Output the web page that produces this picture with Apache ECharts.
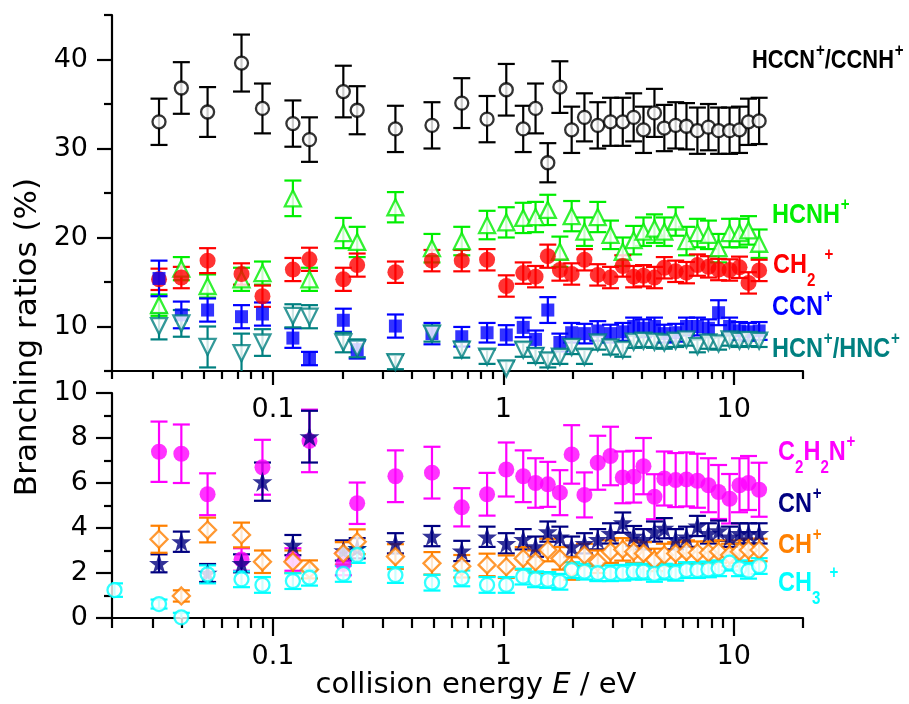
<!DOCTYPE html>
<html><head><meta charset="utf-8">
<script src="https://cdn.jsdelivr.net/npm/echarts@6.0.0/dist/echarts.min.js"></script>
<style>html,body{margin:0;padding:0;background:#fff}#c{width:909px;height:704px}</style>
</head><body><div id="c"></div>
<script>
// ---------- data ----------
const energy = [0.032,0.040,0.052,0.073,0.090,0.122,0.144,0.202,0.232,0.34,
  0.49,0.66,0.85,1.03,1.22,1.38,1.56,1.76,1.98,2.25,
  2.57,2.92,3.3,3.68,4.06,4.53,5.0,5.6,6.24,6.96,
  7.77,8.6,9.6,10.6,11.6,12.9];
const energyCH3 = [0.0205,0.032,0.040,0.052,0.073,0.090,0.122,0.144,0.202,0.232,0.34,
  0.49,0.66,0.85,1.03,1.22,1.38,1.56,1.76,1.98,2.25,
  2.57,2.92,3.3,3.68,4.06,4.53,5.0,5.6,6.24,6.96,
  7.77,8.6,9.6,10.6,11.6,12.9];

const hccn = [33.0,36.8,34.1,39.6,34.5,32.8,31.0,36.4,34.3,32.2,32.6,35.1,33.3,36.6,32.2,34.5,28.4,36.9,32.1,33.5,32.6,33.0,33.0,33.5,32.1,34.0,32.3,32.6,32.5,32.0,32.4,32.0,32.0,32.1,33.0,33.1];
const hccnErr = [2.6,2.9,2.8,3.2,2.8,2.6,2.5,2.9,2.7,2.6,2.6,2.8,2.6,2.9,2.6,2.8,2.2,2.9,2.6,2.7,2.6,2.7,2.7,2.7,2.6,2.7,2.6,2.6,2.6,2.6,2.6,2.6,2.6,2.6,2.6,2.6];
const hcnh = [12.4,16.5,14.55,15.3,16.0,24.4,15.3,20.5,19.5,23.4,18.8,19.6,21.4,21.7,22.2,22.3,23.1,18.4,22.4,20.65,22.3,20.3,18.4,19.7,20.65,21.0,20.65,21.8,19.6,20.5,20.3,18.8,20.5,20.5,20.8,19.3];
const hcnhErr = [1.2,1.3,1.3,1.3,1.3,2.0,1.3,1.7,1.7,1.7,1.6,1.6,1.6,1.7,1.7,1.7,1.7,1.7,1.7,1.6,1.7,1.6,1.6,1.6,1.6,1.6,1.6,1.6,1.6,1.6,1.6,1.6,1.6,1.6,1.6,1.6];
const ch2 = [15.3,15.5,17.4,15.9,13.4,16.4,17.55,15.3,16.9,16.1,17.4,17.4,17.5,14.55,16.0,15.6,17.9,16.35,15.9,17.5,15.8,15.5,16.8,15.6,15.7,15.5,16.6,16.2,16.05,16.9,16.7,16.4,16.35,16.65,14.9,16.3];
const ch2Err = [1.2,1.2,1.4,1.2,1.2,1.3,1.3,1.3,1.3,1.2,1.2,1.2,1.2,1.2,1.2,1.2,1.3,1.2,1.2,1.2,1.2,1.2,1.2,1.2,1.2,1.2,1.2,1.2,1.2,1.2,1.2,1.2,1.2,1.2,1.2,1.2];
const ccn = [15.4,11.3,11.85,11.1,11.4,8.7,6.4,10.7,7.4,10.05,9.2,8.85,9.3,9.05,9.9,8.55,11.85,8.2,9.3,9.2,9.5,9.2,9.4,10.0,9.8,10.0,9.2,9.3,10.0,10.0,9.8,11.55,10.0,9.5,9.4,9.5];
const ccnErr = [2.0,1.5,1.3,1.3,1.3,1.1,0.75,1.3,1.0,1.3,1.2,1.1,1.1,1.1,1.1,1.0,1.45,1.0,1.1,1.1,1.1,1.0,1.0,1.0,1.0,1.0,1.0,1.0,1.0,1.0,1.0,1.4,1.0,1.0,1.0,1.0];
const hcn = [10.05,10.35,7.7,7.0,8.2,11.2,11.1,8.2,7.55,6.0,9.2,7.4,6.6,5.3,7.4,6.7,6.2,6.6,7.7,6.6,8.2,7.65,7.4,8.3,8.4,8.3,8.2,8.4,8.55,7.8,8.2,8.1,8.55,8.4,8.5,8.4];
const hcnErr = [1.5,1.5,2.3,2.2,1.5,1.3,1.3,1.1,1.0,0.8,0.9,0.9,0.8,0.8,0.8,0.8,0.8,0.8,0.8,0.8,0.8,0.8,0.8,0.7,0.7,0.7,0.7,0.7,0.7,0.7,0.7,0.7,0.7,0.7,0.7,0.7];

const c2h2n = [7.39,7.3,5.5,2.6,6.7,2.6,7.87,2.4,5.1,6.3,6.46,4.92,5.5,6.6,6.3,6.0,5.94,5.57,7.27,5.47,6.9,7.2,6.25,6.28,6.75,5.39,6.2,6.13,6.16,6.1,5.9,5.6,5.3,5.9,6.0,5.7];
const c2h2nErr = [1.34,1.3,0.93,0.5,1.22,0.5,1.39,0.5,0.92,1.15,1.15,0.85,0.95,1.2,1.15,1.1,1.0,1.0,1.3,1.0,1.2,1.3,1.15,1.15,1.25,1.0,1.2,1.2,1.2,1.2,1.2,1.2,1.1,1.2,1.2,1.2];
const cn = [2.43,3.39,2.0,2.43,6.06,3.24,8.06,3.0,3.1,3.32,3.64,2.98,3.61,3.32,3.5,3.17,3.84,3.61,3.17,3.32,3.5,3.76,4.24,3.64,3.5,3.84,3.99,3.5,3.61,4.09,3.76,3.88,3.61,3.76,3.76,3.76];
const cnErr = [0.4,0.45,0.4,0.4,0.85,0.45,1.15,0.45,0.45,0.45,0.45,0.45,0.45,0.45,0.45,0.45,0.45,0.45,0.45,0.45,0.45,0.45,0.45,0.45,0.45,0.45,0.45,0.45,0.45,0.45,0.45,0.45,0.45,0.45,0.45,0.45];
const ch = [3.5,0.98,3.91,3.69,2.5,2.5,2.16,2.87,3.39,2.73,2.43,2.3,2.36,2.28,2.65,2.5,3.02,2.65,2.2,2.8,2.5,2.95,3.05,2.95,2.87,2.58,2.8,2.87,2.95,2.9,2.9,2.95,2.8,2.95,3.02,3.02];
const chErr = [0.6,0.25,0.55,0.55,0.5,0.5,0.4,0.5,0.55,0.55,0.5,0.5,0.5,0.5,0.5,0.5,0.5,0.5,0.5,0.5,0.5,0.5,0.5,0.5,0.5,0.5,0.5,0.5,0.5,0.5,0.5,0.5,0.5,0.5,0.5,0.5];
const ch3 = [1.24,0.62,0.03,1.94,1.72,1.47,1.64,1.79,1.96,2.8,1.91,1.57,1.76,1.47,1.47,1.84,1.72,1.69,1.61,2.13,2.06,1.99,1.99,2.01,2.06,2.06,1.96,2.06,2.01,2.13,2.13,2.16,2.21,2.46,2.21,2.1,2.31];
const ch3Err = [0.3,0.2,0.2,0.4,0.35,0.35,0.35,0.35,0.35,0.35,0.35,0.35,0.35,0.35,0.35,0.35,0.35,0.35,0.35,0.35,0.35,0.35,0.35,0.35,0.35,0.35,0.35,0.35,0.35,0.35,0.35,0.35,0.35,0.35,0.35,0.35,0.35];

// tick positions
const xMajorTicks = [0.1, 1, 10];
const xMinorTicks = [0.02,0.03,0.04,0.05,0.06,0.07,0.08,0.09,0.2,0.3,0.4,0.5,0.6,0.7,0.8,0.9,2,3,4,5,6,7,8,9,20];
const yTopMajor = [10, 20, 30, 40];
const yTopMinor = [5, 15, 25, 35, 45];

// ---------- style ----------
const F = "'DejaVu Sans', sans-serif";
const FL = "'Liberation Sans', Arial, sans-serif";
const BLK = '#000';
const STAR = 'path://M50,0 L61.8,35.1 L98.8,35.1 L68.9,56.8 L80.3,91.9 L50,70.2 L19.7,91.9 L31.1,56.8 L1.2,35.1 L38.2,35.1 Z';

function errSeries(xs, ys, es, color, gi) {
  return {
    type: 'custom', xAxisIndex: gi === 0 ? 0 : 2, yAxisIndex: gi === 0 ? 0 : 2,
    clip: true, silent: true,
    data: xs.map((x, i) => [x, ys[i] - es[i], ys[i] + es[i]]),
    encode: { x: 0, y: [1, 2] },
    renderItem: function (params, api) {
      const x = api.value(0);
      const p1 = api.coord([x, api.value(2)]);
      const p2 = api.coord([x, api.value(1)]);
      const hw = 8.5;
      const st = { stroke: color, lineWidth: 2.2, fill: null };
      return { type: 'group', children: [
        { type: 'line', shape: { x1: p1[0], y1: p1[1], x2: p2[0], y2: p2[1] }, style: st },
        { type: 'line', shape: { x1: p1[0] - hw, y1: p1[1], x2: p1[0] + hw, y2: p1[1] }, style: st },
        { type: 'line', shape: { x1: p2[0] - hw, y1: p2[1], x2: p2[0] + hw, y2: p2[1] }, style: st }
      ]};
    }
  };
}
function markSeries(xs, ys, color, gi, symbol, size, open, rotate) {
  return {
    type: 'scatter', xAxisIndex: gi === 0 ? 0 : 2, yAxisIndex: gi === 0 ? 0 : 2,
    clip: true, silent: true,
    symbol: symbol, symbolSize: size, symbolRotate: rotate || 0,
    data: xs.map((x, i) => [x, ys[i]]),
    itemStyle: open ? { color: '#fff', borderColor: color, borderWidth: 2.3 } : { color: color, borderWidth: 0 }
  };
}

const series = [];
function add(xs, ys, es, color, gi, symbol, size, open, rot) {
  series.push(errSeries(xs, ys, es, color, gi));
  series.push(markSeries(xs, ys, color, gi, symbol, size, open, rot));
}
add(energy, hccn, hccnErr, '#000000', 0, 'circle', 13, true);
add(energy, hcnh, hcnhErr, '#00ee00', 0, 'triangle', 16, true);
add(energy, ch2, ch2Err, '#ff0000', 0, 'circle', 16, false);
add(energy, ccn, ccnErr, '#0000ff', 0, 'rect', 13, false);
add(energy, hcn, hcnErr, '#008080', 0, 'triangle', 16, true, 180);
add(energy, c2h2n, c2h2nErr, '#ff00ff', 1, 'circle', 16, false);
add(energy, cn, cnErr, '#000080', 1, STAR, 20, false);
add(energy, ch, chErr, '#ff8000', 1, 'diamond', 17, true);
add(energyCH3, ch3, ch3Err, '#00ffff', 1, 'circle', 14, true);

const lineSt = { color: BLK, width: 2.2 };
function xMain(gi, tickLen) {
  return { gridIndex: gi, type: 'log', logBase: 10, min: 0.02, max: 20, position: 'bottom',
    axisLine: { show: true, onZero: false, lineStyle: lineSt },
    axisTick: { show: true, customValues: xMajorTicks, length: tickLen, lineStyle: lineSt },
    axisLabel: { show: true, customValues: xMajorTicks, margin: 25, fontSize: 27, fontFamily: F, color: BLK,
      formatter: v => String(+Number(v).toPrecision(3)) },
    splitLine: { show: false }, minorTick: { show: false } };
}
function xMinor(gi, tickLen) {
  return { gridIndex: gi, type: 'log', logBase: 10, min: 0.02, max: 20, position: 'bottom',
    axisLine: { show: false, onZero: false },
    axisTick: { show: true, customValues: xMinorTicks, length: tickLen, lineStyle: lineSt },
    axisLabel: { show: false }, splitLine: { show: false } };
}

// labels
function lab(parts, color, x, y, size) {
  const rich = {
    m: { fontSize: size, fontWeight: 'bold', fontFamily: FL, fill: color, color: color, lineHeight: 50, verticalAlign: 'middle' },
    u: { fontSize: 18, fontWeight: 'bold', fontFamily: FL, fill: color, color: color, lineHeight: 16, padding: [6, 0, 0, 1], verticalAlign: 'top' },
    s: { fontSize: 18, fontWeight: 'bold', fontFamily: FL, fill: color, color: color, lineHeight: 16, verticalAlign: 'bottom' }
  };
  return { type: 'text', x: x, y: y, scaleX: 0.84, silent: true, z: 100,
    style: { text: parts.map(p => '{' + p[0] + '|' + p[1] + '}').join(''), rich: rich,
      align: 'left', verticalAlign: 'middle', fill: color, fontFamily: FL, fontWeight: 'bold', fontSize: size } };
}
const graphics = [
  lab([['m','HCCN'],['u','+'],['m','/CCNH'],['u','+']], '#000000', 752, 61, 26),
  lab([['m','HCNH'],['u','+']], '#00ee00', 772, 215, 28),
  lab([['m','CH'],['s','2'],['u','  +']], '#ff0000', 773, 265, 28),
  lab([['m','CCN'],['u','+']], '#0000ff', 772, 307, 28),
  lab([['m','HCN'],['u','+'],['m','/HNC'],['u','+']], '#008080', 772, 349, 28),
  lab([['m','C'],['s','2'],['m','H'],['s','2'],['m','N'],['u','+']], '#ff00ff', 778, 452, 28),
  lab([['m','CN'],['u','+']], '#000080', 778, 504, 28),
  lab([['m','CH'],['u','+']], '#ff8000', 778, 545, 28),
  lab([['m','CH'],['s','3'],['u','  +']], '#00ffff', 778, 583, 28),
  { type: 'text', x: 476, y: 685, silent: true,
    style: { text: '{n|collision energy }{i|E}{n| / eV}', align: 'center', verticalAlign: 'middle',
      rich: { n: { fontSize: 29, fontFamily: F, fill: BLK }, i: { fontSize: 29, fontFamily: F, fontStyle: 'italic', fill: BLK } } } },
  { type: 'text', x: 28, y: 337, rotation: Math.PI / 2, silent: true,
    style: { text: 'Branching ratios (%)', align: 'center', verticalAlign: 'middle', fontSize: 31, fontFamily: F, fill: BLK } }
];

const option = {
  animation: false,
  backgroundColor: '#fff',
  grid: [
    { left: 112, top: 15, width: 691, height: 356 },
    { left: 112, top: 393, width: 691, height: 225 }
  ],
  xAxis: [xMain(0, 14), xMinor(0, 8), xMain(1, 18), xMinor(1, 10)],
  yAxis: [
    { gridIndex: 0, type: 'value', min: 5, max: 45, position: 'left',
      axisLine: { show: true, onZero: false, lineStyle: lineSt },
      axisTick: { show: true, customValues: yTopMajor, length: 15, lineStyle: lineSt },
      axisLabel: { show: true, customValues: yTopMajor, margin: 24, fontSize: 27, fontFamily: F, color: BLK },
      splitLine: { show: false } },
    { gridIndex: 0, type: 'value', min: 5, max: 45, position: 'left',
      axisLine: { show: false, onZero: false },
      axisTick: { show: true, customValues: yTopMinor, length: 8, lineStyle: lineSt },
      axisLabel: { show: false }, splitLine: { show: false } },
    { gridIndex: 1, type: 'value', min: 0, max: 10, interval: 2, position: 'left',
      axisLine: { show: true, onZero: false, lineStyle: lineSt },
      axisTick: { show: true, length: 16, lineStyle: lineSt },
      minorTick: { show: true, splitNumber: 2, length: 8, lineStyle: lineSt },
      axisLabel: { show: true, margin: 24, fontSize: 27, fontFamily: F, color: BLK },
      splitLine: { show: false } }
  ],
  series: series,
  graphic: graphics
};
const chart = echarts.init(document.getElementById('c'), null, { renderer: 'canvas' });
chart.setOption(option);
</script>
</body></html>
